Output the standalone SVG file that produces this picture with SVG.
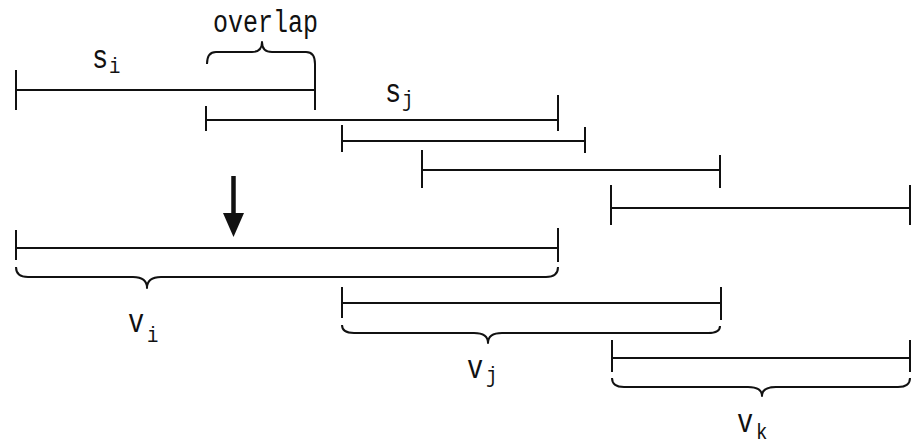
<svg xmlns="http://www.w3.org/2000/svg" width="914" height="445" viewBox="0 0 914 445">
  <style>
    .seg { stroke: #111; stroke-width: 2; fill: none; }
    .brace { stroke: #111; stroke-width: 2; fill: none; stroke-linejoin: round; }
    .lbl { font-family: "Liberation Mono", "DejaVu Sans Mono", monospace; fill: #111; }
    .main { font-size: 27px; }
    .sub { font-size: 19px; }
  </style>
  <rect width="914" height="445" fill="#fff"/>

  <!-- input segments -->
  <g id="seg-si">
    <path class="seg" d="M16,90 H315 M16,70 V110 M315,64 V110"/>
    <text class="lbl main" transform="translate(92,68) scale(1,1.2)">s</text>
    <text class="lbl sub" transform="translate(109,73) scale(1,1.2)">i</text>
  </g>
  <g id="overlap">
    <path class="brace" d="M207,64 Q207,52 216,52 L252,52 Q262,52 262,42 Q262,52 272,52 L306,52 Q315,52 315,64"/>
    <text class="lbl" font-size="28" textLength="105" lengthAdjust="spacingAndGlyphs" transform="translate(213,32) scale(1,1.1)">overlap</text>
  </g>
  <g id="seg-sj">
    <path class="seg" d="M206,120 H558 M206,106 V131 M558,95 V131"/>
    <text class="lbl main" transform="translate(385,102) scale(1,1.2)">s</text>
    <text class="lbl sub" transform="translate(402,106) scale(1,1.15)">j</text>
  </g>
  <g id="seg-3">
    <path class="seg" d="M342,141 H585 M342,125 V152 M585,127 V153"/>
  </g>
  <g id="seg-4">
    <path class="seg" d="M422,170 H720 M422,150 V188 M720,155 V188"/>
  </g>
  <g id="seg-5">
    <path class="seg" d="M611,208 H910 M611,185 V225 M910,185 V225"/>
  </g>

  <!-- merge arrow -->
  <g id="arrow">
    <line x1="233.5" y1="176" x2="233.5" y2="216" stroke="#111" stroke-width="4.5"/>
    <polygon points="223,213 244,213 233.5,237" fill="#111"/>
  </g>

  <!-- merged segments -->
  <g id="seg-vi">
    <path class="seg" d="M16,248 H558 M16,230 V260 M558,228 V262"/>
    <path class="brace" d="M16,267 Q16,277 28,277 L133,277 Q147,277 147,288 Q147,277 161,277 L546,277 Q558,277 558,267"/>
    <text class="lbl main" transform="translate(128,332) scale(1,1.2)">v</text>
    <text class="lbl sub" transform="translate(147,342) scale(1,1.2)">i</text>
  </g>
  <g id="seg-vj">
    <path class="seg" d="M342,303 H721 M342,287 V318 M721,287 V320"/>
    <path class="brace" d="M342,325 Q342,333 354,333 L474,333 Q488,333 488,343 Q488,333 502,333 L708,333 Q720,333 720,326"/>
    <text class="lbl main" transform="translate(467,378) scale(1,1.2)">v</text>
    <text class="lbl sub" transform="translate(486,382) scale(1,1.15)">j</text>
  </g>
  <g id="seg-vk">
    <path class="seg" d="M612,358 H910 M612,340 V372 M910,340 V372"/>
    <path class="brace" d="M612,378 Q612,387 624,387 L748,387 Q762,387 762,396 Q762,387 776,387 L898,387 Q910,387 910,378"/>
    <text class="lbl main" transform="translate(737,432) scale(1,1.2)">v</text>
    <text class="lbl sub" transform="translate(756,439) scale(1,1.15)">k</text>
  </g>
</svg>
